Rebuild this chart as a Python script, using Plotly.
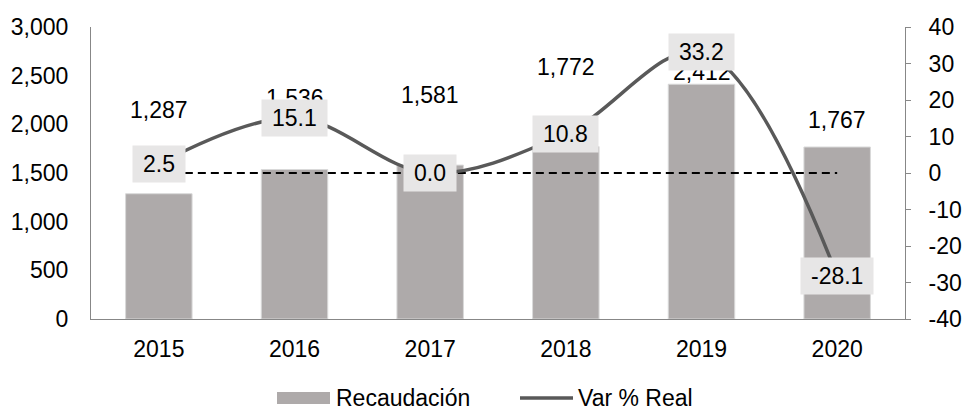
import plotly.graph_objects as go

years = ["2015", "2016", "2017", "2018", "2019", "2020"]
recaudacion = [1287, 1536, 1581, 1772, 2412, 1767]
var_real = [2.5, 15.1, 0.0, 10.8, 33.2, -28.1]
zero_ref = [0, 0, 0, 0, 0, 0]
left_ticks = [0, 500, 1000, 1500, 2000, 2500, 3000]
right_ticks = [-40, -30, -20, -10, 0, 10, 20, 30, 40]

# vertical placement of the bar value labels (left-axis units), as in the reference
bar_label_y = [2147, 2270, 2301, 2589, 2538, 2045]

FONT = "Liberation Sans, Arial, sans-serif"
FS = 23
BAR_COLOR = "#AEAAAA"
LINE_COLOR = "#595959"

fig = go.Figure()
fig.add_trace(go.Bar(
    x=years, y=recaudacion, name="Recaudación",
    marker=dict(color=BAR_COLOR, line=dict(color="#D9D9D9", width=1)),
    width=0.49, yaxis="y", showlegend=False,
))
fig.add_trace(go.Scatter(
    x=years, y=zero_ref, mode="lines", showlegend=False, hoverinfo="skip",
    line=dict(color="#000000", width=2, dash="8px,5px"), yaxis="y2",
))
fig.add_trace(go.Scatter(
    x=years, y=var_real, name="Var % Real", mode="lines",
    line=dict(color=LINE_COLOR, width=3.5, shape="spline", smoothing=1.0),
    yaxis="y2", showlegend=False,
))

def text_w(s, fs):
    w = 0
    for ch in s:
        if ch in ".,":
            w += 0.278
        elif ch == "-":
            w += 0.333
        else:
            w += 0.556
    return w * fs

anns = []
for i, (v, ly) in enumerate(zip(recaudacion, bar_label_y)):
    anns.append(dict(x=i, y=ly, xref="x", yref="y", text=f"{v:,}",
                     showarrow=False, font=dict(family=FONT, size=FS, color="#000000")))
for i, v in enumerate(var_real):
    t = f"{v:.1f}"
    anns.append(dict(x=i, y=v, xref="x", yref="y2", text=t, showarrow=False,
                     bgcolor="#E7E6E6", borderpad=5, width=text_w(t, FS) + 10,
                     font=dict(family=FONT, size=FS, color="#000000")))

# custom legend (wide bar swatch + line swatch, as in the reference)
W, H, L, R, T, B = 962, 411, 91, 57, 27, 92
pw, ph = W - L - R, H - T - B
def px(x):
    return (x - L) / pw
def py(y):
    return (H - B - y) / ph

shapes = [
    dict(type="rect", xref="paper", yref="paper", x0=px(277), x1=px(330),
         y0=py(404), y1=py(392), fillcolor=BAR_COLOR, line=dict(width=0)),
    dict(type="line", xref="paper", yref="paper", x0=px(520), x1=px(573),
         y0=py(398), y1=py(398), line=dict(color=LINE_COLOR, width=3.5)),
]
anns.append(dict(xref="paper", yref="paper", x=px(334), y=py(398), xanchor="left",
                 yanchor="middle", text="Recaudación", showarrow=False,
                 font=dict(family=FONT, size=FS, color="#000000")))
anns.append(dict(xref="paper", yref="paper", x=px(576), y=py(398), xanchor="left",
                 yanchor="middle", text="Var % Real", showarrow=False,
                 font=dict(family=FONT, size=FS, color="#000000")))

fig.update_layout(
    width=W, height=H,
    margin=dict(l=L, r=R, t=T, b=B, autoexpand=False),
    paper_bgcolor="white", plot_bgcolor="white",
    font=dict(family=FONT, size=FS, color="#000000"),
    bargap=0.51,
    xaxis=dict(type="category", range=[-0.5, len(years) - 0.5], autorange=False,
               showline=True, linecolor="#878787", linewidth=1, automargin=False,
               ticks="", showgrid=False, ticklabelstandoff=9,
               tickfont=dict(family=FONT, size=FS, color="#000000")),
    yaxis=dict(range=[0, 3000], tickvals=left_ticks,
               ticktext=[f"{t:,}" for t in left_ticks], showgrid=False,
               showline=True, linecolor="#878787", linewidth=1, ticks="",
               zeroline=False, ticklabelstandoff=17, automargin=False,
               tickfont=dict(family=FONT, size=FS, color="#000000")),
    yaxis2=dict(range=[-40, 40], tickvals=right_ticks,
                ticktext=[str(t) for t in right_ticks], overlaying="y", side="right",
                showgrid=False, showline=True, linecolor="#878787", linewidth=1,
                ticks="outside", ticklen=5, tickcolor="#878787", zeroline=False,
                ticklabelstandoff=13, automargin=False,
                tickfont=dict(family=FONT, size=FS, color="#000000")),
    annotations=anns,
    shapes=shapes,
    showlegend=False,
)

fig.write_html("out.html", config={"displayModeBar": False},
               post_script="document.body.style.margin='0';document.body.style.overflow='hidden';")
